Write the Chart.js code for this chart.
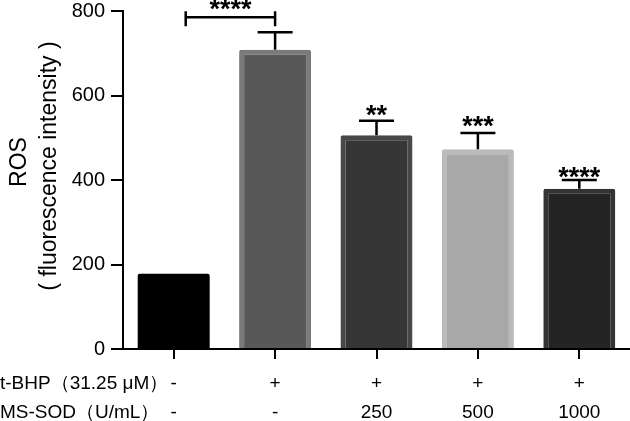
<!DOCTYPE html>
<html>
<head>
<meta charset="utf-8">
<script src="https://cdn.jsdelivr.net/npm/chart.js@4.4.0/dist/chart.umd.min.js"></script>
<style>
  html, body { margin: 0; padding: 0; background: #fff; }
  #wrap { width: 630px; height: 421px; }
</style>
</head>
<body>
<div id="wrap"><canvas id="c" width="630" height="421"></canvas></div>
<script>
// ---- data ----
const tbhpRow   = ['-', '+', '+', '+', '+'];
const msSodRow  = ['-', '-', '250', '500', '1000'];
const rowHeaders = ['t-BHP（31.25 μM）', 'MS-SOD（U/mL）'];
const yTitleLines = ['ROS', '( fluorescence intensity )'];
const rosMean   = [178, 708, 506, 473, 379];
const rosError  = [0, 42, 34, 38, 21];
const sigStars  = ['', '', '**', '***', '****'];
const bracketStars = '****';
const yTicks    = [0, 200, 400, 600, 800];

const fillColors   = ['#000000', '#585858', '#363636', '#a8a8a8', '#242424'];
const borderColors = ['#000000', '#7a7a7a', '#484848', '#bababa', '#343434'];
const FONT = '"Liberation Sans", Arial, Helvetica, sans-serif';

const labels = tbhpRow.map((t, i) => [t, msSodRow[i]]);

const X_TICK_LEN = 10, X_TICK_PAD = 10, X_LINE_H = 29;
const STAR_SHIFT = [0, 0, 3, 2, 6];

const annotPlugin = {
  id: 'annot',
  afterDatasetsDraw(chart) {
    const ctx = chart.ctx;
    const y = chart.scales.y;
    const meta = chart.getDatasetMeta(0);
    ctx.save();
    ctx.strokeStyle = '#000';
    ctx.fillStyle = '#000';
    ctx.lineWidth = 2.5;
    ctx.lineCap = 'butt';
    const tops = [];
    meta.data.forEach((bar, i) => {
      const yb = y.getPixelForValue(rosMean[i]);
      const yt = y.getPixelForValue(rosMean[i] + rosError[i]);
      tops.push(yt);
      if (rosError[i] > 0) {
        ctx.beginPath();
        ctx.moveTo(bar.x, yb);
        ctx.lineTo(bar.x, yt);
        ctx.moveTo(bar.x - 17.5, yt);
        ctx.lineTo(bar.x + 17.5, yt);
        ctx.stroke();
      }
      if (sigStars[i]) {
        ctx.font = 'bold 27px ' + FONT;
        ctx.textAlign = 'center';
        ctx.textBaseline = 'alphabetic';
        ctx.fillText(sigStars[i], bar.x, yt + STAR_SHIFT[i]);
      }
    });
    // comparison bracket between group 1 and group 2
    const b0 = meta.data[0], b1 = meta.data[1];
    const by = tops[1] - 15;
    const x0 = b0.x + 12, x1 = b1.x;
    ctx.beginPath();
    ctx.moveTo(x0, by); ctx.lineTo(x1, by);
    ctx.moveTo(x0, by - 6); ctx.lineTo(x0, by + 9);
    ctx.moveTo(x1, by - 6); ctx.lineTo(x1, by + 9);
    ctx.stroke();
    ctx.font = 'bold 27px ' + FONT;
    ctx.textAlign = 'center';
    ctx.textBaseline = 'alphabetic';
    ctx.fillText(bracketStars, (x0 + x1) / 2, by + 1);
    ctx.restore();
  },
  afterDraw(chart) {
    const ctx = chart.ctx;
    const xs = chart.scales.x;
    ctx.save();
    ctx.fillStyle = '#000';
    ctx.font = '19px ' + FONT;
    ctx.textAlign = 'left';
    ctx.textBaseline = 'middle';
    rowHeaders.forEach((t, i) => {
      const cy = xs.top + X_TICK_LEN + X_TICK_PAD + X_LINE_H / 2 + i * X_LINE_H;
      ctx.fillText(t, 0, cy);
    });
    // y-axis title, two rotated lines
    ctx.font = '23px ' + FONT;
    ctx.textAlign = 'center';
    const centers = [[20, 162], [50, 166]];
    yTitleLines.forEach((t, i) => {
      ctx.save();
      ctx.translate(centers[i][0], centers[i][1]);
      ctx.rotate(-Math.PI / 2);
      ctx.fillText(t, 0, 0);
      ctx.restore();
    });
    ctx.restore();
  }
};

new Chart(document.getElementById('c'), {
  type: 'bar',
  data: {
    labels: labels,
    datasets: [{
      data: rosMean,
      backgroundColor: fillColors,
      borderColor: borderColors,
      borderWidth: [0, 5, 5, 5, 5],
      borderRadius: 2,
      categoryPercentage: 1.0,
      barPercentage: 0.71
    }]
  },
  options: {
    responsive: false,
    animation: false,
    devicePixelRatio: 1,
    layout: { padding: { top: 0, right: 0, left: 0, bottom: 0 } },
    plugins: { legend: { display: false }, tooltip: { enabled: false } },
    scales: {
      x: {
        type: 'category',
        grid: { display: true, drawOnChartArea: false, drawTicks: true, tickLength: X_TICK_LEN, offset: false, color: '#000', lineWidth: 2 },
        border: { display: true, color: '#000', width: 2 },
        ticks: {
          color: '#000', padding: X_TICK_PAD, autoSkip: false, maxRotation: 0,
          font: { family: FONT, size: 19, lineHeight: X_LINE_H / 19 }
        },
        afterFit(s) { s.height = 72; }
      },
      y: {
        min: 0, max: 800,
        afterBuildTicks(s) { s.ticks = yTicks.map(v => ({ value: v })); },
        grid: { display: true, drawOnChartArea: false, drawTicks: true, tickLength: 12, color: '#000', lineWidth: 2 },
        border: { display: true, color: '#000', width: 2 },
        ticks: { color: '#000', padding: 6, font: { family: FONT, size: 20, lineHeight: 1.1 } },
        afterFit(s) { s.width = 123; s.paddingTop = 11; s.paddingBottom = 0; }
      }
    }
  },
  plugins: [annotPlugin]
});
</script>
</body>
</html>
